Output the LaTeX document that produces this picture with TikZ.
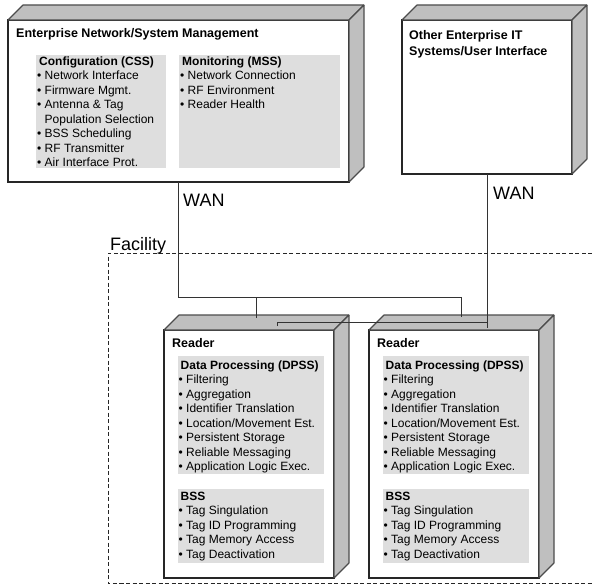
\documentclass[tikz,border=0pt]{standalone}
\usepackage{fontspec}
\setmainfont{Liberation Sans}
\usetikzlibrary{positioning,calc}

\begin{document}
\begin{tikzpicture}[
    x=1pt, y=1pt,
    front/.style={rectangle, draw=black!85, line width=1.2pt, fill=white, inner sep=0pt, outer sep=0pt, anchor=north west},
    face/.style={draw=black!70, line width=1.1pt, fill=black!25, line join=bevel},
    panel/.style={rectangle, fill=black!13, inner sep=0pt, outer sep=0pt, anchor=north west},
    head/.style={font=\fontsize{12.5}{16}\selectfont\bfseries, inner sep=0pt, align=left, anchor=north west},
    items/.style={font=\fontsize{12}{14.5}\selectfont, inner sep=0pt, align=left, anchor=north west},
    link/.style={draw=black!80, line width=0.8pt},
    wan/.style={font=\fontsize{18}{20}\selectfont, inner sep=0pt, anchor=base west},
]
    \useasboundingbox (0,0) rectangle (592,-586);

    % facility boundary
    \draw[black!85, line width=0.8pt, dash pattern=on 4pt off 2.5pt] (592,-253) -- (108,-253) -- (108,-583) -- (592,-583);
    \node[wan] (facility) at (110,-250.5) {Facility};

    % enterprise management node
    \node[front, minimum width=341pt, minimum height=162pt] (ent) at (8,-20) {};
    \filldraw[face] (ent.north west) -- ++(15,15) -- ($(ent.north east)+(15,15)$) -- (ent.north east) -- cycle;
    \filldraw[face] (ent.north east) -- ++(15,15) -- ($(ent.south east)+(15,15)$) -- (ent.south east) -- cycle;
    \node[head, below right=8.5pt and 8pt of ent.north west] (enttitle) {\rule{0pt}{9pt}Enterprise Network/System Management};
    \node[panel, minimum width=130pt, minimum height=113pt, below right=35pt and 28pt of ent.north west] (css) {};
    \node[panel, minimum width=161pt, minimum height=113pt, right=13pt of css] (mss) {};
    \node[items, below right=1pt and 1pt of css.north west] (csstext) {%
        \rule{0pt}{9pt}\hspace*{2pt}\textbf{Configuration (CSS)}\\
        \textbullet~Network Interface\\
        \textbullet~Firmware Mgmt.\\
        \textbullet~Antenna \& Tag\\
        \phantom{\textbullet~}Population Selection\\
        \textbullet~BSS Scheduling\\
        \textbullet~RF Transmitter\\
        \textbullet~Air Interface Prot.};
    \node[items, below right=1pt and 1pt of mss.north west] (msstext) {%
        \rule{0pt}{9pt}\hspace*{2pt}\textbf{Monitoring (MSS)}\\
        \textbullet~Network Connection\\
        \textbullet~RF Environment\\
        \textbullet~Reader Health};

    % other enterprise systems node
    \node[front, minimum width=170pt, minimum height=154pt] (oth) at (402,-20) {};
    \filldraw[face] (oth.north west) -- ++(15,15) -- ($(oth.north east)+(15,15)$) -- (oth.north east) -- cycle;
    \filldraw[face] (oth.north east) -- ++(15,15) -- ($(oth.south east)+(15,15)$) -- (oth.south east) -- cycle;
    \node[head, below right=10pt and 7pt of oth.north west] (othtitle) {\rule{0pt}{9pt}Other Enterprise IT\\Systems/User Interface};

    % readers
    \node[front, minimum width=170pt, minimum height=248pt] (rdrL) at (164,-330) {};
    \filldraw[face] (rdrL.north west) -- ++(15,15) -- ($(rdrL.north east)+(15,15)$) -- (rdrL.north east) -- cycle;
    \filldraw[face] (rdrL.north east) -- ++(15,15) -- ($(rdrL.south east)+(15,15)$) -- (rdrL.south east) -- cycle;
    \node[head, below right=8pt and 8pt of rdrL.north west] (rdrLtitle) {\rule{0pt}{9pt}Reader};
    \node[panel, minimum width=146pt, minimum height=118pt, below right=26pt and 13.5pt of rdrL.north west] (dpssL) {};
    \node[panel, minimum width=146pt, minimum height=74pt, below=15pt of dpssL] (bssL) {};
    \node[items, below right=4pt and 1pt of dpssL.north west] (dpssLtext) {%
        \rule{0pt}{9pt}\hspace*{2pt}\textbf{Data Processing (DPSS)}\\
        \textbullet~Filtering\\
        \textbullet~Aggregation\\
        \textbullet~Identifier Translation\\
        \textbullet~Location/Movement Est.\\
        \textbullet~Persistent Storage\\
        \textbullet~Reliable Messaging\\
        \textbullet~Application Logic Exec.};
    \node[items, below right=2pt and 1pt of bssL.north west] (bssLtext) {%
        \rule{0pt}{9pt}\hspace*{2pt}\textbf{BSS}\\
        \textbullet~Tag Singulation\\
        \textbullet~Tag ID Programming\\
        \textbullet~Tag Memory Access\\
        \textbullet~Tag Deactivation};

    \node[front, minimum width=170pt, minimum height=248pt] (rdrR) at (369,-330) {};
    \filldraw[face] (rdrR.north west) -- ++(15,15) -- ($(rdrR.north east)+(15,15)$) -- (rdrR.north east) -- cycle;
    \filldraw[face] (rdrR.north east) -- ++(15,15) -- ($(rdrR.south east)+(15,15)$) -- (rdrR.south east) -- cycle;
    \node[head, below right=8pt and 8pt of rdrR.north west] (rdrRtitle) {\rule{0pt}{9pt}Reader};
    \node[panel, minimum width=146pt, minimum height=118pt, below right=26pt and 13.5pt of rdrR.north west] (dpssR) {};
    \node[panel, minimum width=146pt, minimum height=74pt, below=15pt of dpssR] (bssR) {};
    \node[items, below right=4pt and 1pt of dpssR.north west] (dpssRtext) {%
        \rule{0pt}{9pt}\hspace*{2pt}\textbf{Data Processing (DPSS)}\\
        \textbullet~Filtering\\
        \textbullet~Aggregation\\
        \textbullet~Identifier Translation\\
        \textbullet~Location/Movement Est.\\
        \textbullet~Persistent Storage\\
        \textbullet~Reliable Messaging\\
        \textbullet~Application Logic Exec.};
    \node[items, below right=2pt and 1pt of bssR.north west] (bssRtext) {%
        \rule{0pt}{9pt}\hspace*{2pt}\textbf{BSS}\\
        \textbullet~Tag Singulation\\
        \textbullet~Tag ID Programming\\
        \textbullet~Tag Memory Access\\
        \textbullet~Tag Deactivation};

    % WAN / LAN links
    \coordinate (bus) at (0,-297);
    \coordinate (tapL) at ($(rdrL.north)+(7.5,12)$);
    \coordinate (tapR) at ($(rdrR.north)+(7.5,13)$);
    \coordinate (dropR) at ($(oth.south |- rdrR.north)+(0,2)$);
    \coordinate (lanL) at ($(rdrL.north)+(28,4)$);
    \coordinate (lanR) at ($(oth.south |- rdrR.north)+(0,8)$);

    \draw[link] (ent.south) -- (ent.south |- bus) -| (tapR);
    \draw[link] (tapL |- bus) -- (tapL);
    \draw[link] (oth.south) -- (dropR);
    \draw[link] (lanL) |- (lanR);

    \node[wan] (wanL) at (183,-206.5) {WAN};
    \node[wan] (wanR) at (493,-199.5) {WAN};
\end{tikzpicture}
\end{document}
